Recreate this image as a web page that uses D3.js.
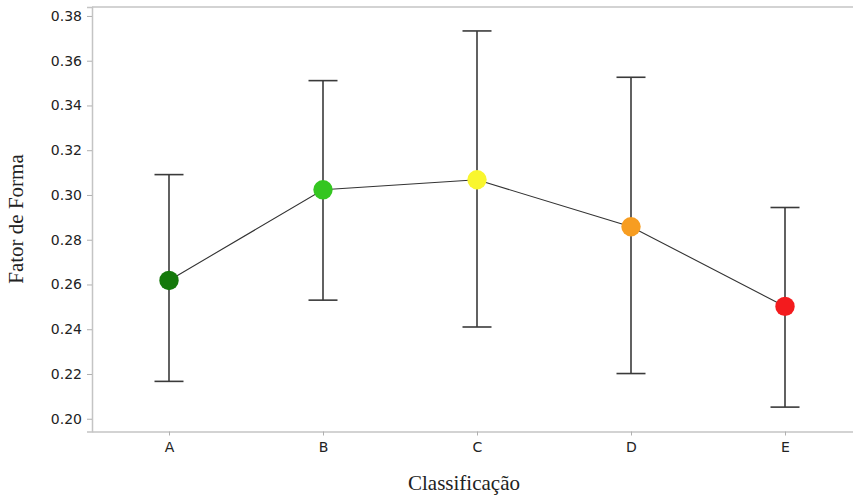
<!DOCTYPE html>
<html>
<head>
<meta charset="utf-8">
<script src="https://cdn.jsdelivr.net/npm/d3@7"></script>
<style>
  html, body { margin: 0; padding: 0; background: #fff; }
  svg { display: block; }
</style>
</head>
<body>
<svg id="chart" width="853" height="495"></svg>
<script>
// Shape factor by classification: mean with interval bounds
const categories = ["A", "B", "C", "D", "E"];
const means = [0.2618, 0.3023, 0.3068, 0.2858, 0.2502];
const upper = [0.3091, 0.3511, 0.3733, 0.3526, 0.2944];
const lower = [0.2167, 0.2530, 0.2410, 0.2202, 0.2052];
const colors = ["#15790b", "#34c620", "#f9f62e", "#f79d21", "#f31b1e"];
const yTicks = [0.20, 0.22, 0.24, 0.26, 0.28, 0.30, 0.32, 0.34, 0.36, 0.38];

const svg = d3.select("#chart");
const plotLeft = 92, plotTop = 7, plotBottom = 431.5, plotRight = 862;

const x = d3.scalePoint().domain(categories).range([plotLeft, plotRight]).padding(0.5);
const y = d3.scaleLinear().domain([0.1943, 0.3840]).range([plotBottom, plotTop]);

const frameColor = "#c4c4c4";

// Frame: top edge
svg.append("line").attr("x1", plotLeft).attr("x2", plotRight).attr("y1", plotTop).attr("y2", plotTop)
  .attr("stroke", frameColor).attr("stroke-width", 1.5);

// Y axis
const yAxis = svg.append("g").attr("transform", `translate(${plotLeft},0)`)
  .call(d3.axisLeft(y).tickValues(yTicks).tickFormat(d3.format(".2f")).tickSize(5).tickPadding(5));
yAxis.select(".domain").attr("stroke", frameColor).attr("stroke-width", 1.5);
yAxis.selectAll(".tick line").attr("stroke", "#b0b0b0");
yAxis.selectAll(".tick text").attr("fill", "#222")
  .style("font-family", "'DejaVu Sans', sans-serif").style("font-size", "14px");

// X axis
const xAxis = svg.append("g").attr("transform", `translate(0,${plotBottom})`)
  .call(d3.axisBottom(x).tickSize(4).tickPadding(7).tickSizeOuter(0));
xAxis.select(".domain").attr("stroke", frameColor).attr("stroke-width", 1.5);
xAxis.selectAll(".tick line").attr("stroke", "#b0b0b0");
xAxis.selectAll(".tick text").attr("fill", "#222")
  .style("font-family", "'DejaVu Sans', sans-serif").style("font-size", "14px");

// Error bars
const capHalf = 14.5;
const bars = svg.append("g").attr("stroke", "#3a3a3a").attr("stroke-width", 1.6);
categories.forEach((c, i) => {
  const cx = x(c);
  bars.append("line").attr("x1", cx).attr("x2", cx).attr("y1", y(upper[i])).attr("y2", y(lower[i]));
  bars.append("line").attr("x1", cx - capHalf).attr("x2", cx + capHalf).attr("y1", y(upper[i])).attr("y2", y(upper[i]));
  bars.append("line").attr("x1", cx - capHalf).attr("x2", cx + capHalf).attr("y1", y(lower[i])).attr("y2", y(lower[i]));
});

// Line connecting the means
const line = d3.line().x((d, i) => x(categories[i])).y(d => y(d));
svg.append("path").datum(means).attr("d", line)
  .attr("fill", "none").attr("stroke", "#333").attr("stroke-width", 1.1);

// Mean markers
svg.append("g").selectAll("circle").data(means).join("circle")
  .attr("cx", (d, i) => x(categories[i])).attr("cy", d => y(d))
  .attr("r", 9.7).attr("fill", (d, i) => colors[i]);

// Axis titles
svg.append("text").attr("x", 464).attr("y", 490).attr("text-anchor", "middle")
  .style("font-family", "'Liberation Serif', 'Times New Roman', serif").style("font-size", "21px")
  .attr("fill", "#222").text("Classificação");
svg.append("text").attr("transform", "translate(23,219) rotate(-90)").attr("text-anchor", "middle")
  .style("font-family", "'Liberation Serif', 'Times New Roman', serif").style("font-size", "21px")
  .attr("fill", "#222").text("Fator de Forma");
</script>
</body>
</html>
